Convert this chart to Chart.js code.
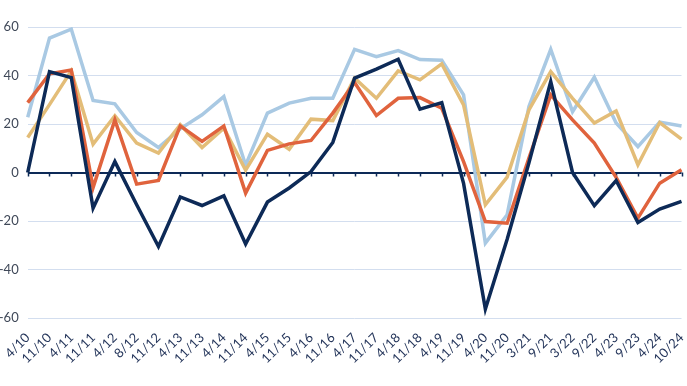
<!DOCTYPE html>
<html>
<head>
<meta charset="utf-8">
<script src="https://cdn.jsdelivr.net/npm/chart.js@4/dist/chart.umd.min.js"></script>
<style>
  html, body { margin: 0; padding: 0; background: #fff; }
  #wrap { width: 687px; height: 386px; }
</style>
</head>
<body>
<div id="wrap"><canvas id="chart"></canvas></div>
<script>
const labels = ['4/10', '11/10', '4/11', '11/11', '4/12', '8/12', '11/12', '4/13', '11/13', '4/14',
  '11/14', '4/15', '11/15', '4/16', '11/16', '4/17', '11/17', '4/18', '11/18', '4/19',
  '11/19', '4/20', '11/20', '3/21', '9/21', '3/22', '9/22', '4/23', '9/23', '4/24', '10/24'];

const navySeries = [0, 41.6, 39.1, -14.7, 4.5, -13.3, -30.5, -10.1, -13.6, -9.6,
  -29.5, -12.2, -6.4, 0.4, 12.4, 38.9, 42.6, 46.7, 26.1, 28.8,
  -4.5, -56.3, -27.5, 4, 37.5, 0, -13.7, -3.3, -20.6, -15.1, -11.9];

const orangeSeries = [28.8, 40.7, 42.3, -6.2, 21.7, -4.8, -3.3, 19.2, 12.8, 19.2,
  -8.5, 9.1, 11.8, 13.2, 24.5, 37.1, 23.5, 30.6, 30.9, 26.5,
  4.5, -20.2, -20.9, 6, 32, 21.7, 12.1, -2, -18.8, -4.4, 1.1];

const tanSeries = [14.4, 28, 41.9, 11.7, 23.4, 12.1, 8, 19.7, 10.3, 18.3,
  1, 15.8, 9.6, 22, 21.4, 38.9, 30.6, 41.9, 38.2, 44.8,
  27.9, -13.3, -1.9, 25.8, 41.6, 30.6, 20.4, 25.4, 3.2, 20.6, 13.8];

const lightBlueSeries = [22.8, 55.4, 59.1, 29.7, 28.3, 16.5, 10.3, 18, 23.8, 31.3,
  3, 24.5, 28.6, 30.6, 30.6, 50.8, 47.8, 50.3, 46.6, 46.3,
  32, -29.1, -17.4, 27.2, 50.8, 25.1, 39.3, 20.4, 10.7, 20.8, 19.2];

const yTicks = [-60, -40, -20, 0, 20, 40, 60];

const NAVY = '#0d2a57';
const GRID = '#d3deef';

// small tick marks hanging below the zero line
const zeroTicks = {
  id: 'zeroTicks',
  beforeDatasetsDraw(chart) {
    const { ctx, scales: { x, y } } = chart;
    const y0 = y.getPixelForValue(0);
    ctx.save();
    ctx.strokeStyle = NAVY;
    ctx.lineWidth = 1.5;
    ctx.beginPath();
    labels.forEach((_, i) => {
      const px = Math.round(x.getPixelForValue(i)) + 0.5;
      ctx.moveTo(px, y0);
      ctx.lineTo(px, y0 + 4);
    });
    ctx.stroke();
    ctx.restore();
  }
};

function makeSet(label, data, color) {
  return {
    label: label,
    data: data,
    borderColor: color,
    backgroundColor: color,
    borderWidth: 3.5,
    pointRadius: 0,
    tension: 0,
    borderJoinStyle: 'miter',
    fill: false
  };
}

new Chart(document.getElementById('chart'), {
  type: 'line',
  data: {
    labels: labels,
    datasets: [
      makeSet('Navy', navySeries, NAVY),
      makeSet('Orange', orangeSeries, '#e0633d'),
      makeSet('Tan', tanSeries, '#e3bd78'),
      makeSet('Light blue', lightBlueSeries, '#a9c9e3')
    ]
  },
  options: {
    responsive: true,
    maintainAspectRatio: false,
    animation: false,
    layout: { padding: { top: 27, right: 5.5, left: 0, bottom: 0 } },
    plugins: {
      legend: { display: false },
      tooltip: { enabled: false }
    },
    scales: {
      x: {
        offset: false,
        grid: { display: false, drawTicks: false },
        border: { display: false },
        afterFit: (scale) => {
          scale.height = 68;
          scale.paddingLeft = 0;
          scale.paddingRight = 0;
        },
        ticks: {
          autoSkip: false,
          minRotation: 45,
          maxRotation: 45,
          padding: 12,
          color: '#26375c',
          font: { family: 'Lato', size: 13 }
        }
      },
      y: {
        min: -60,
        max: 60,
        afterBuildTicks: (scale) => { scale.ticks = yTicks.map(v => ({ value: v })); },
        afterFit: (scale) => { scale.width = 27.7; },
        border: { display: false },
        grid: {
          drawTicks: false,
          color: (c) => c.tick && c.tick.value === 0 ? NAVY : GRID,
          lineWidth: (c) => c.tick && c.tick.value === 0 ? 2 : 1
        },
        ticks: {
          padding: 9,
          color: '#3f4858',
          font: { family: 'Lato', size: 13 }
        }
      }
    }
  },
  plugins: [zeroTicks]
});
</script>
</body>
</html>
